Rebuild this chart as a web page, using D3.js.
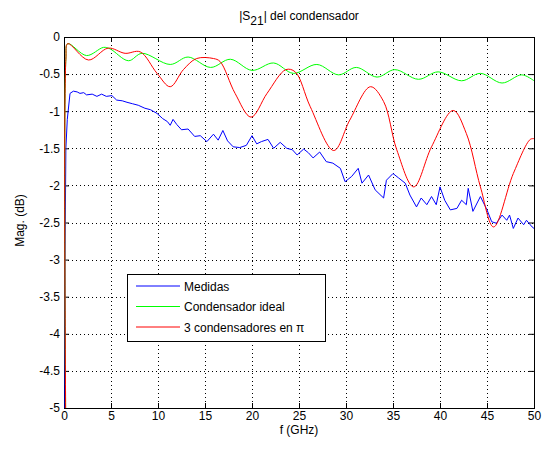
<!doctype html>
<html>
<head>
<meta charset="UTF-8">
<title>|S21| del condensador</title>
<script src="https://d3js.org/d3.v7.min.js"></script>
<style>
	body { margin: 0; background: #fff; }
	svg text { font: 12px "Liberation Sans", Arial, sans-serif; fill: #000; }
	.grid line { stroke: #000; stroke-dasharray: 1,3; stroke-width: 1; }
	.axis path, .axis line { stroke: #000; }
</style>
</head>
<body>
<svg class="chart" width="546" height="450"></svg>
<script>
// frecuencia (GHz) y magnitud (dB)
var medidasF = [0.1, 0.1, 0.2, 0.35, 0.64, 1.0, 1.4, 1.7, 2.1, 2.4, 3.0, 3.5, 4.0, 4.5, 5.1, 5.6, 6.2, 6.7, 7.3, 7.9, 8.6, 9.2, 9.9, 10.5, 11.0, 11.3, 11.6, 12.0, 12.5, 13.2, 13.9, 14.5, 15.2, 15.9, 16.4, 16.9, 17.4, 18.0, 18.7, 19.4, 20.0, 20.5, 21.0, 21.7, 22.3, 23.0, 23.7, 24.3, 24.8, 25.5, 26.0, 26.5, 27.2, 27.9, 28.6, 29.4, 29.9, 30.6, 31.3, 31.7, 32.4, 33.1, 34.0, 34.3, 35.0, 35.6, 36.3, 36.8, 37.5, 38.0, 38.6, 39.1, 39.6, 40.0, 40.5, 41.1, 41.8, 42.3, 42.8, 43.0, 43.5, 44.3, 45.0, 45.5, 46.0, 46.6, 47.1, 47.4, 47.8, 48.3, 48.9, 49.2, 49.8, 50];
var medidasDb = [-5.5, -3.1, -1.5, -1.11, -0.76, -0.73, -0.74, -0.76, -0.75, -0.78, -0.77, -0.8, -0.77, -0.8, -0.79, -0.85, -0.86, -0.88, -0.9, -0.92, -0.96, -0.98, -1.03, -1.1, -1.14, -1.19, -1.11, -1.18, -1.25, -1.24, -1.34, -1.33, -1.41, -1.31, -1.39, -1.26, -1.4, -1.48, -1.49, -1.46, -1.33, -1.44, -1.41, -1.38, -1.5, -1.42, -1.5, -1.52, -1.59, -1.51, -1.56, -1.63, -1.55, -1.68, -1.7, -1.77, -1.95, -1.88, -1.77, -1.97, -1.86, -2.06, -2.17, -1.93, -1.84, -1.9, -1.97, -2.13, -2.29, -2.17, -2.26, -2.15, -2.26, -2.02, -2.2, -2.33, -2.31, -2.2, -2.26, -2.04, -2.35, -2.15, -2.33, -2.49, -2.51, -2.4, -2.47, -2.4, -2.58, -2.44, -2.53, -2.47, -2.56, -2.58];

var idealF = [0.2, 0.2, 0.4, 2.4, 4.2, 4.9, 6.85, 8.3, 11.3, 13.2, 15.6, 17.7, 20.0, 22.3, 24.4, 26.9, 29.2, 31.1, 33.3, 35.2, 37.7, 39.8, 42.3, 44.3, 46.6, 48.7, 50];
var idealDb = [-5.5, -0.3, -0.09, -0.25, -0.14, -0.16, -0.32, -0.22, -0.37, -0.27, -0.41, -0.3, -0.45, -0.35, -0.49, -0.37, -0.51, -0.41, -0.54, -0.44, -0.57, -0.47, -0.59, -0.49, -0.62, -0.51, -0.59];

var piF = [0.2, 0.2, 0.4, 2.6, 4.7, 6.5, 8.1, 9.9, 11.3, 12.7, 14.1, 15.9, 16.6, 18.2, 19.9, 21.6, 23.6, 24.6, 26.2, 28.7, 30.4, 32.6, 34.0, 35.4, 37.2, 39.1, 41.4, 42.8, 44.3, 45.7, 47.8, 49.6, 50];
var piDb = [-5.5, -0.3, -0.09, -0.31, -0.15, -0.22, -0.2, -0.49, -0.67, -0.44, -0.29, -0.29, -0.33, -0.76, -1.08, -0.76, -0.44, -0.47, -0.94, -1.53, -1.12, -0.67, -0.87, -1.52, -2.02, -1.48, -0.99, -1.3, -2.02, -2.56, -1.84, -1.38, -1.37];

var xTicks = [0, 5, 10, 15, 20, 25, 30, 35, 40, 45, 50];
var yTicks = [0, -0.5, -1, -1.5, -2, -2.5, -3, -3.5, -4, -4.5, -5];
var names = ['Medidas', 'Condensador ideal', '3 condensadores en \u03c0'];
var colors = ['#0000ff', '#00ff00', '#ff0000'];

var chart = d3.select('.chart');
var margin = {top: 37, right: 12, bottom: 42, left: 64};
var width = +chart.attr('width') - margin.left - margin.right;
var height = +chart.attr('height') - margin.top - margin.bottom;

var x = d3.scaleLinear().domain([0, 50]).range([0, width]);
var y = d3.scaleLinear().domain([-5, 0]).range([height, 0]);

var g = chart.append('g')
	.attr('transform', 'translate(' + margin.left + ',' + margin.top + ')');

// rejilla punteada
var grid = g.append('g').attr('class', 'grid');
grid.selectAll('.gx').data(xTicks.slice(1, -1)).enter().append('line')
	.attr('x1', function(d) { return Math.round(x(d)) + 0.5; })
	.attr('x2', function(d) { return Math.round(x(d)) + 0.5; })
	.attr('y1', 0).attr('y2', height);
grid.selectAll('.gy').data(yTicks.slice(1, -1)).enter().append('line')
	.attr('y1', function(d) { return Math.round(y(d)) + 0.5; })
	.attr('y2', function(d) { return Math.round(y(d)) + 0.5; })
	.attr('x1', 0).attr('x2', width);

g.append('clipPath').attr('id', 'clip')
	.append('rect').attr('width', width).attr('height', height);

function series(fs, vs) {
	return fs.map(function(f, i) { return [f, vs[i]]; });
}
var lineLin = d3.line()
	.x(function(d) { return x(d[0]); })
	.y(function(d) { return y(d[1]); });
var lineSmooth = d3.line()
	.curve(d3.curveCatmullRom.alpha(0.5))
	.x(function(d) { return x(d[0]); })
	.y(function(d) { return y(d[1]); });

// ejes con marcas hacia dentro
var fmt = function(d) { return String(d); };
g.append('g').attr('class', 'axis')
	.attr('transform', 'translate(0,' + height + ')')
	.call(d3.axisBottom(x).tickValues(xTicks).tickFormat(fmt).tickSizeInner(-5).tickSizeOuter(0).tickPadding(3));
g.append('g').attr('class', 'axis')
	.call(d3.axisTop(x).tickValues(xTicks).tickFormat('').tickSizeInner(-5).tickSizeOuter(0));
g.append('g').attr('class', 'axis')
	.call(d3.axisLeft(y).tickValues(yTicks).tickFormat(fmt).tickSizeInner(-5).tickSizeOuter(0).tickPadding(4));
g.append('g').attr('class', 'axis')
	.attr('transform', 'translate(' + width + ',0)')
	.call(d3.axisRight(y).tickValues(yTicks).tickFormat('').tickSizeInner(-5).tickSizeOuter(0));
g.selectAll('.axis text').style('font-size', '12px').attr('fill', '#000');
g.append('rect').attr('width', width).attr('height', height)
	.attr('fill', 'none').attr('stroke', '#000').attr('shape-rendering', 'crispEdges');

var plot = g.append('g').attr('clip-path', 'url(#clip)');
plot.append('path').datum(series(medidasF, medidasDb))
	.attr('fill', 'none').attr('stroke', colors[0]).attr('stroke-width', 1)
	.attr('d', lineLin);
plot.append('path').datum(series(idealF, idealDb))
	.attr('fill', 'none').attr('stroke', colors[1]).attr('stroke-width', 1)
	.attr('d', lineSmooth);
plot.append('path').datum(series(piF, piDb))
	.attr('fill', 'none').attr('stroke', colors[2]).attr('stroke-width', 1)
	.attr('d', lineSmooth);

// titulo y etiquetas
var title = chart.append('text')
	.attr('x', margin.left + width / 2).attr('y', 20)
	.attr('text-anchor', 'middle');
title.append('tspan').text('|S');
title.append('tspan').attr('dy', 5).style('font-size', '12px').text('21');
title.append('tspan').attr('dy', -5).text('| del condensador');

chart.append('text')
	.attr('x', margin.left + width / 2).attr('y', 434)
	.attr('text-anchor', 'middle').text('f (GHz)');
chart.append('text')
	.attr('transform', 'translate(24,' + (margin.top + height / 2 - 2) + ') rotate(-90)')
	.attr('text-anchor', 'middle').text('Mag. (dB)');

// leyenda
var legend = chart.append('g').attr('transform', 'translate(127,274)');
legend.append('rect').attr('width', 198).attr('height', 67)
	.attr('fill', '#fff').attr('stroke', '#000').attr('shape-rendering', 'crispEdges');
names.forEach(function(n, i) {
	var ly = 12 + i * 20.5;
	legend.append('line').attr('x1', 9).attr('x2', 53)
		.attr('y1', ly).attr('y2', ly)
		.attr('stroke', colors[i]).attr('stroke-width', 1);
	legend.append('text').attr('x', 57).attr('y', ly + 4.5).text(n);
});
</script>
</body>
</html>
